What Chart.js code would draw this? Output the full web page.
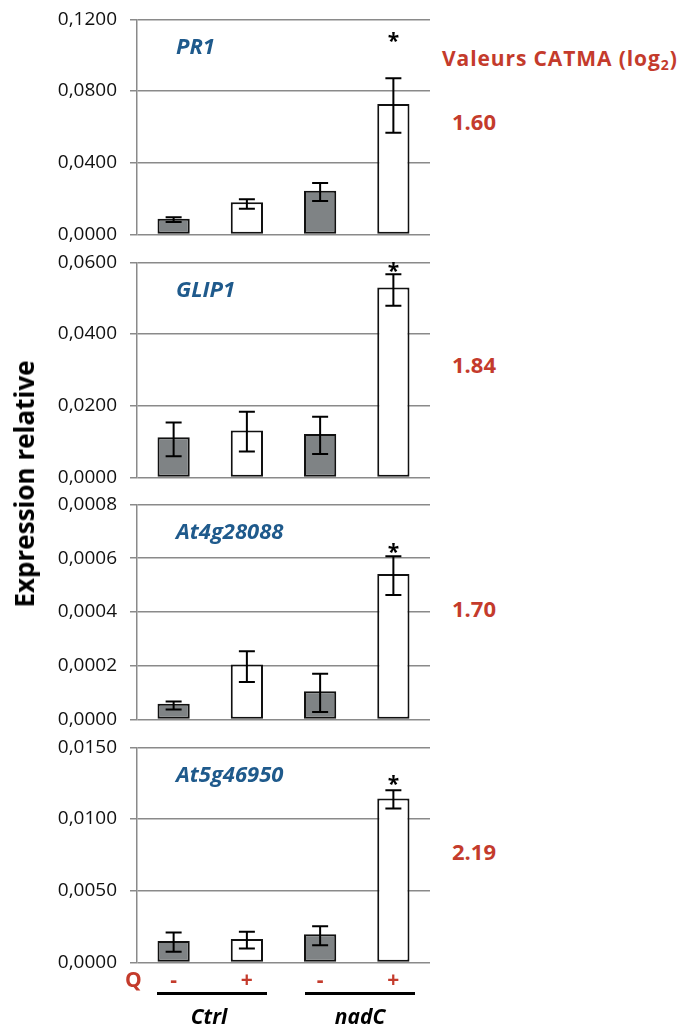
<!DOCTYPE html>
<html>
<head>
<meta charset="utf-8">
<script src="https://cdn.jsdelivr.net/npm/chart.js"></script>
<style>
    body { margin: 0; background: #fff; }
    #page { position: relative; width: 680px; height: 1028px; overflow: hidden; font-family: "Open Sans", sans-serif; }
    canvas { position: absolute; left: 0; }
    .txt { position: absolute; white-space: nowrap; font-weight: bold; line-height: 1; }
    .red { color: #C43B2C; }
    .line { position: absolute; height: 3px; background: #000; }
</style>
</head>
<body>
<div id="page">
    <canvas id="c1" width="440" height="265"></canvas>
    <canvas id="c2" width="440" height="265"></canvas>
    <canvas id="c3" width="440" height="265"></canvas>
    <canvas id="c4" width="440" height="265"></canvas>

    <div class="txt" style="left:24px; top:484px; font-size:26px; transform: translate(-50%, -50%) rotate(-90deg); color:#000;">Expression relative</div>

    <div class="txt red" style="left:442px; top:48px; font-size:21px; letter-spacing:0.9px;">Valeurs CATMA (log<sub style="font-size:14px; vertical-align:-4px;">2</sub>)</div>
    <div class="txt red" id="v1" style="left:452px; top:110px; font-size:22px;"></div>
    <div class="txt red" id="v2" style="left:452px; top:353px; font-size:22px;"></div>
    <div class="txt red" id="v3" style="left:452px; top:597px; font-size:22px;"></div>
    <div class="txt red" id="v4" style="left:452px; top:840px; font-size:22px;"></div>

    <div class="txt red" style="left:125px; top:969px; font-size:21px;">Q</div>
    <div class="txt red" id="q0" style="top:969px; font-size:21px;"></div>
    <div class="txt red" id="q1" style="top:969px; font-size:21px;"></div>
    <div class="txt red" id="q2" style="top:969px; font-size:21px;"></div>
    <div class="txt red" id="q3" style="top:969px; font-size:21px;"></div>

    <div class="line" style="left:157px; width:110px; top:992px;"></div>
    <div class="line" style="left:305px; width:110px; top:992px;"></div>
    <div class="txt" style="left:209px; top:1006px; font-size:21px; font-style:italic; transform:translateX(-50%);">Ctrl</div>
    <div class="txt" style="left:360px; top:1006px; font-size:21px; font-style:italic; transform:translateX(-50%);">nadC</div>
</div>

<script>
// bars: Ctrl -Q, Ctrl +Q, nadC -Q, nadC +Q
const categories = ['Ctrl -', 'Ctrl +', 'nadC -', 'nadC +'];
const qSigns = ['-', '+', '-', '+'];
const barColors = ['#7F8385', '#ffffff', '#7F8385', '#ffffff'];

const genes = ['PR1', 'GLIP1', 'At4g28088', 'At5g46950'];
const catmaValues = ['1.60', '1.84', '1.70', '2.19'];

const pr1Values = [0.0087, 0.0180, 0.0244, 0.0728];
const pr1Low = [0.0069, 0.0143, 0.0187, 0.0568];
const pr1High = [0.0096, 0.0196, 0.0287, 0.0872];
const pr1Ticks = [0, 0.04, 0.08, 0.12];

const glip1Values = [0.0112, 0.0131, 0.0121, 0.0530];
const glip1Low = [0.0059, 0.0072, 0.0065, 0.0479];
const glip1High = [0.0153, 0.0183, 0.0169, 0.0567];
const glip1Ticks = [0, 0.02, 0.04, 0.06];

const at4Values = [0.000058, 0.000204, 0.000105, 0.000541];
const at4Low = [0.000037, 0.000139, 0.000028, 0.000463];
const at4High = [0.000067, 0.000254, 0.000170, 0.000607];
const at4Ticks = [0, 0.0002, 0.0004, 0.0006, 0.0008];

const at5Values = [0.00150, 0.00164, 0.00197, 0.01143];
const at5Low = [0.00074, 0.00097, 0.00120, 0.01074];
const at5High = [0.00208, 0.00213, 0.00252, 0.01201];
const at5Ticks = [0, 0.005, 0.010, 0.015];

// level of the significance star (only on nadC +Q)
const starLevels = [0.1106, 0.0591, 0.000642, 0.0128];
const starIndex = 3;

const gridColor = '#8a8a8a';
// page y of each panel's top gridline; panel plot height
const panelTops = [19, 262, 504, 747];
const plotHeight = 215;

function makePanel(id, gene, values, low, high, ticks, starLevel) {
    // error bars, star and gene name
    const annotate = {
        id: 'annotate',
        afterDatasetsDraw(chart) {
            const ctx = chart.ctx;
            const y = chart.scales.y;
            const meta = chart.getDatasetMeta(0);
            ctx.save();
            ctx.strokeStyle = '#000';
            ctx.lineWidth = 2;
            meta.data.forEach((bar, i) => {
                const yl = y.getPixelForValue(low[i]);
                const yh = y.getPixelForValue(high[i]);
                ctx.beginPath();
                ctx.moveTo(bar.x, yl); ctx.lineTo(bar.x, yh);
                ctx.moveTo(bar.x - 8, yl); ctx.lineTo(bar.x + 8, yl);
                ctx.moveTo(bar.x - 8, yh); ctx.lineTo(bar.x + 8, yh);
                ctx.stroke();
            });

            ctx.fillStyle = '#000';
            ctx.font = 'bold 21px "Open Sans"';
            ctx.textAlign = 'center';
            ctx.textBaseline = 'alphabetic';
            ctx.fillText('*', meta.data[starIndex].x, y.getPixelForValue(starLevel) + 12);

            ctx.fillStyle = '#1F5A8C';
            ctx.font = 'italic bold 22px "Open Sans"';
            ctx.textAlign = 'left';
            ctx.fillText(gene, 176, chart.chartArea.top + 35);
            ctx.restore();
        }
    };

    return new Chart(document.getElementById(id), {
        type: 'bar',
        data: {
            labels: categories,
            datasets: [{
                data: values,
                backgroundColor: barColors,
                borderColor: '#111',
                borderWidth: 2,
                borderSkipped: false,
                categoryPercentage: 1,
                barPercentage: 0.44
            }]
        },
        options: {
            responsive: false,
            animation: false,
            devicePixelRatio: 1,
            layout: {padding: {top: 4, bottom: 4, left: 0, right: 8}},
            plugins: {legend: {display: false}, tooltip: {enabled: false}},
            scales: {
                x: {display: false},
                y: {
                    min: 0,
                    max: ticks[ticks.length - 1],
                    afterFit: (s) => { s.width = 137; },
                    afterBuildTicks: (s) => { s.ticks = ticks.map(v => ({value: v})); },
                    grid: {color: gridColor, lineWidth: 1.5, tickLength: 7, drawTicks: true},
                    border: {display: true, color: gridColor, width: 1.5},
                    ticks: {
                        padding: 13,
                        color: '#111',
                        font: {family: 'Open Sans', size: 19},
                        callback: (v) => Number(v).toFixed(4).replace('.', ',')
                    }
                }
            }
        },
        plugins: [annotate]
    });
}

const charts = [
    makePanel('c1', genes[0], pr1Values, pr1Low, pr1High, pr1Ticks, starLevels[0]),
    makePanel('c2', genes[1], glip1Values, glip1Low, glip1High, glip1Ticks, starLevels[1]),
    makePanel('c3', genes[2], at4Values, at4Low, at4High, at4Ticks, starLevels[2]),
    makePanel('c4', genes[3], at5Values, at5Low, at5High, at5Ticks, starLevels[3])
];

// size each canvas so the plot area is plotHeight tall, then place it
charts.forEach((chart, i) => {
    const extra = chart.height - (chart.chartArea.bottom - chart.chartArea.top);
    chart.resize(440, plotHeight + extra);
    chart.canvas.style.top = (panelTops[i] - chart.chartArea.top) + 'px';
});

catmaValues.forEach((v, i) => { document.getElementById('v' + (i + 1)).textContent = v; });

// Q signs centred under each bar of the last panel
const lastMeta = charts[3].getDatasetMeta(0);
qSigns.forEach((s, i) => {
    const el = document.getElementById('q' + i);
    el.textContent = s;
    el.style.left = lastMeta.data[i].x + 'px';
    el.style.transform = 'translateX(-50%)';
});
</script>
</body>
</html>
